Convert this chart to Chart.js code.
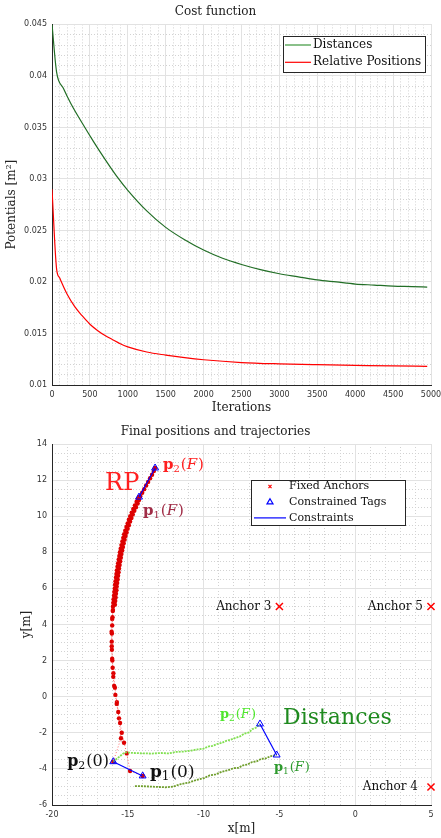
<!DOCTYPE html>
<html>
<head>
<meta charset="utf-8">
<title>Cost function and trajectories</title>
<script src="https://cdn.jsdelivr.net/npm/chart.js@4.4.1/dist/chart.umd.min.js"></script>
<style>
  html, body { margin: 0; padding: 0; background: #fff; }
  .panel { position: absolute; left: 0; width: 441px; height: 419px; }
  #cost-panel { top: 0; }
  #traj-panel { top: 419px; }
</style>
</head>
<body>
<div class="panel" id="cost-panel"><canvas id="cost-chart" width="441" height="419"></canvas></div>
<div class="panel" id="traj-panel"><canvas id="traj-chart" width="441" height="419"></canvas></div>
<script>
// ---- cost function data ----
const distIterations = [0, 60, 150, 250, 400, 550, 700, 850, 1000, 1250, 1500, 1750, 2000, 2250, 2500, 2750, 3000, 3250, 3500, 3750, 4000, 4250, 4500, 4750, 4950];
const distancesCost = [0.0450, 0.0404, 0.0388, 0.0373, 0.0354, 0.0336, 0.0319, 0.0303, 0.0289, 0.0269, 0.0253, 0.0241, 0.0231, 0.0223, 0.0217, 0.0212, 0.0208, 0.0205, 0.0202, 0.0200, 0.0198, 0.0197, 0.0196, 0.01955, 0.0195];
const relIterations = [0, 60, 100, 200, 300, 400, 500, 600, 700, 800, 900, 1000, 1250, 1500, 1750, 2000, 2500, 3000, 3500, 4000, 4500, 4950];
const relativeCost = [0.0290, 0.0213, 0.0204, 0.0188, 0.0176, 0.0167, 0.0159, 0.0153, 0.0148, 0.0144, 0.0140, 0.0137, 0.0132, 0.01290, 0.01265, 0.01245, 0.01218, 0.01205, 0.01197, 0.01191, 0.01185, 0.01181];
const costSeriesNames = ["Distances", "Relative Positions"];

// ---- trajectory data ----
const rpTag1X = [-14.02, -14.85, -15.07, -15.25, -15.40, -15.51, -15.63, -15.73, -15.82, -15.90, -15.96, -16.00, -16.03, -16.05, -16.06, -16.05, -16.03, -16.01, -15.99,
  -15.98, -15.96, -15.94, -15.91, -15.89, -15.86, -15.84, -15.81, -15.78, -15.75, -15.72, -15.68, -15.64, -15.60, -15.56, -15.52,
  -15.47, -15.42, -15.36, -15.30, -15.24, -15.17, -15.09, -15.01, -14.93, -14.84, -14.74, -14.64, -14.53, -14.42, -14.34, -14.26];
const rpTag1Y = [-4.39, -4.12, -3.14, -2.55, -2.00, -1.46, -0.85, -0.40, 0.10, 0.60, 1.10, 1.60, 2.10, 2.60, 3.05, 3.50, 3.95, 4.40, 4.75,
  5.0, 5.2, 5.4, 5.6, 5.8, 6.0, 6.2, 6.4, 6.6, 6.8, 7.0, 7.2, 7.4, 7.6, 7.8, 8.0,
  8.2, 8.4, 8.6, 8.8, 9.0, 9.2, 9.4, 9.6, 9.8, 10.0, 10.2, 10.4, 10.6, 10.8, 10.95, 11.06];
const rpTag2X = [-15.96, -15.45, -15.58, -15.72, -15.85, -15.95, -16.02, -16.06, -16.07, -16.03, -15.98,
  -15.85, -15.83, -15.80, -15.78, -15.75, -15.73, -15.70, -15.67, -15.64, -15.61, -15.58, -15.54, -15.50, -15.46, -15.42,
  -15.37, -15.32, -15.27, -15.21, -15.15, -15.08, -15.01, -14.93, -14.85, -14.76, -14.67, -14.57, -14.46, -14.35, -14.26,
  -14.18, -14.05, -13.92, -13.79, -13.66, -13.53, -13.40, -13.28, -13.20];
const rpTag2Y = [-3.60, -2.30, -1.20, -0.30, 0.50, 1.30, 2.00, 2.80, 3.60, 4.30, 4.80,
  5.1, 5.3, 5.5, 5.7, 5.9, 6.1, 6.3, 6.5, 6.7, 6.9, 7.1, 7.3, 7.5, 7.7, 7.9,
  8.1, 8.3, 8.5, 8.7, 8.9, 9.1, 9.3, 9.5, 9.7, 9.9, 10.1, 10.3, 10.5, 10.7, 10.9,
  11.1, 11.3, 11.5, 11.7, 11.9, 12.1, 12.3, 12.5, 12.67];
const distTag1X = [-14.53, -14.00, -13.50, -13.00, -12.50, -12.00, -11.50, -11.00, -10.50, -10.00, -9.60, -9.20, -8.80, -8.40, -8.00, -7.70, -7.40, -7.10, -6.80, -6.50, -6.20, -5.90, -5.60, -5.18];
const distTag1Y = [-4.95, -4.96, -4.98, -5.00, -5.02, -4.98, -4.84, -4.76, -4.62, -4.52, -4.36, -4.30, -4.16, -4.08, -3.96, -3.94, -3.80, -3.76, -3.62, -3.58, -3.44, -3.42, -3.30, -3.23];
const distTag2X = [-15.96, -15.20, -14.60, -14.00, -13.40, -12.80, -12.30, -11.80, -11.30, -10.80, -10.40, -10.00, -9.70, -9.40, -9.10, -8.80, -8.50, -8.20, -7.90, -7.60, -7.30, -7.00, -6.80, -6.55, -6.28];
const distTag2Y = [-3.60, -3.08, -3.12, -3.14, -3.15, -3.12, -3.14, -3.06, -3.04, -2.98, -2.92, -2.88, -2.76, -2.72, -2.62, -2.56, -2.44, -2.38, -2.28, -2.20, -2.04, -1.98, -1.80, -1.72, -1.51];
const initialTagsX = [-15.96, -14.02];
const initialTagsY = [-3.60, -4.39];
const rpFinalTagsX = [-14.26, -13.20];
const rpFinalTagsY = [11.06, 12.67];
const distFinalTagsX = [-6.28, -5.18];
const distFinalTagsY = [-1.51, -3.23];
const anchorX = [-5, 5, 5];
const anchorY = [5, 5, -5];
const anchorNames = ["Anchor 3", "Anchor 5", "Anchor 4"];
const trajLegendNames = ["Fixed Anchors", "Constrained Tags", "Constraints"];

// ---- styling ----
const SERIF = '"DejaVu Serif", serif';
const SANS = '"DejaVu Sans", sans-serif';
const TEXT_COLOR = "#222222";
const TICK_COLOR = "#333333";
const MAJOR_GRID = "#e2e2e2";
const MINOR_GRID = "#d2d2d2";
const AXIS_COLOR = "#262626";
const DIST_COLOR = "#226e26";
const REL_COLOR = "#ff0000";
const TAG_BLUE = "#0000ff";

function zip(xs, ys) {
  return xs.map((x, i) => ({ x, y: ys[i] }));
}

function plainNumber(value) {
  return String(Number(value.toFixed(4)));
}

function majorAxis(axis, range, step, title, titlePad, size) {
  return {
    type: "linear",
    axis,
    position: axis === "x" ? "bottom" : "left",
    min: range[0],
    max: range[1],
    ticks: {
      stepSize: step,
      color: TICK_COLOR,
      font: { family: SANS, size: 8 },
      padding: 5,
      maxRotation: 0,
      autoSkip: false,
      callback: plainNumber,
    },
    grid: { color: MAJOR_GRID, lineWidth: 1, drawTicks: false },
    border: { display: true, color: AXIS_COLOR, width: 1 },
    title: { display: true, text: title, color: TEXT_COLOR, font: { family: SERIF, size: 12 }, padding: titlePad },
    afterFit(scale) {
      if (axis === "x") scale.height = size;
      else scale.width = size;
      scale.paddingLeft = 0;
      scale.paddingRight = 0;
      scale.paddingTop = 0;
      scale.paddingBottom = 0;
    },
  };
}

function minorAxis(axis, range, step) {
  return {
    type: "linear",
    axis,
    position: axis === "x" ? "bottom" : "left",
    min: range[0],
    max: range[1],
    ticks: { display: false, stepSize: step, autoSkip: false },
    grid: { color: MINOR_GRID, lineWidth: 1, drawTicks: false },
    border: { display: false, dash: [1, 2] },
    afterFit(scale) {
      if (axis === "x") scale.height = 0;
      else scale.width = 0;
      scale.paddingLeft = 0;
      scale.paddingRight = 0;
      scale.paddingTop = 0;
      scale.paddingBottom = 0;
    },
  };
}

function drawMath(ctx, x, y, sub, arg, size, color) {
  // bold p, subscript index, then (arg) with F in italics
  ctx.fillStyle = color;
  ctx.textAlign = "left";
  ctx.textBaseline = "alphabetic";
  ctx.font = `bold ${size}px ${SERIF}`;
  ctx.fillText("p", x, y);
  x += ctx.measureText("p").width;
  ctx.font = `${Math.round(size * 0.68)}px ${SERIF}`;
  ctx.fillText(sub, x, y + size * 0.2);
  x += ctx.measureText(sub).width + 1;
  ctx.font = `${size}px ${SERIF}`;
  ctx.fillText("(", x, y);
  x += ctx.measureText("(").width;
  ctx.font = `${arg === "F" ? "italic " : ""}${size}px ${SERIF}`;
  ctx.fillText(arg, x, y);
  x += ctx.measureText(arg).width + (arg === "F" ? 1 : 0);
  ctx.font = `${size}px ${SERIF}`;
  ctx.fillText(")", x, y);
}

function drawLegend(chart, lg) {
  const ctx = chart.ctx;
  const area = chart.chartArea;
  ctx.font = `${lg.fontSize}px ${SERIF}`;
  const textW = Math.max(...lg.items.map((item) => ctx.measureText(item.label).width));
  const w = Math.round(lg.textLeft + textW + lg.padRight);
  const x0 = Math.round(area.left + lg.left);
  const y0 = Math.round(area.top + lg.top);
  ctx.fillStyle = "#ffffff";
  ctx.fillRect(x0, y0, w, lg.height);
  ctx.strokeStyle = AXIS_COLOR;
  ctx.lineWidth = 1;
  ctx.setLineDash([]);
  ctx.strokeRect(x0 + 0.5, y0 + 0.5, w, lg.height);

  lg.items.forEach((item, i) => {
    const cy = y0 + lg.firstRow + i * lg.rowH;
    ctx.strokeStyle = item.color;
    ctx.fillStyle = "rgba(0,0,0,0)";
    if (item.kind === "line") {
      ctx.lineWidth = 1.2;
      ctx.beginPath();
      ctx.moveTo(x0 + item.x1, cy);
      ctx.lineTo(x0 + item.x2, cy);
      ctx.stroke();
    } else {
      ctx.lineWidth = 1.2;
      Chart.helpers.drawPoint(ctx, { pointStyle: item.kind, radius: item.r, rotation: 0, borderWidth: 1.2 }, x0 + item.x, cy);
    }
    ctx.fillStyle = "#111111";
    ctx.font = `${lg.fontSize}px ${SERIF}`;
    ctx.textAlign = "left";
    ctx.textBaseline = "middle";
    ctx.fillText(item.label, x0 + lg.textLeft, cy);
  });
}

function overlay(config) {
  return {
    id: "overlay",
    afterDatasetsDraw(chart) {
      const ctx = chart.ctx;
      const sx = chart.scales.x;
      const sy = chart.scales.y;
      ctx.save();
      (config.notes || []).forEach((note) => {
        const px = sx.getPixelForValue(note.x);
        const py = sy.getPixelForValue(note.y);
        if (note.math) {
          drawMath(ctx, px, py, note.math[0], note.math[1], note.size, note.color);
        } else {
          ctx.fillStyle = note.color;
          ctx.font = `${note.size}px ${SERIF}`;
          ctx.textAlign = "left";
          ctx.textBaseline = "alphabetic";
          ctx.fillText(note.text, px, py);
        }
      });
      (config.anchorLabels || []).forEach((label, i) => {
        ctx.fillStyle = "#111111";
        ctx.font = `12px ${SERIF}`;
        ctx.textAlign = "right";
        ctx.textBaseline = "middle";
        ctx.fillText(label, sx.getPixelForValue(anchorX[i]) - config.anchorGap[i], sy.getPixelForValue(anchorY[i]));
      });
      if (config.legend) drawLegend(chart, config.legend);
      ctx.restore();
    },
  };
}

const baseOptions = {
  responsive: false,
  animation: false,
  devicePixelRatio: 1,
  layout: { padding: { left: 0, right: 10, top: 0, bottom: 0 } },
};

// ---- top chart: cost function ----
new Chart(document.getElementById("cost-chart"), {
  type: "scatter",
  data: {
    datasets: [
      {
        label: costSeriesNames[0],
        data: zip(distIterations, distancesCost),
        showLine: true,
        borderColor: DIST_COLOR,
        borderWidth: 1.2,
        pointRadius: 0,
        cubicInterpolationMode: "monotone",
      },
      {
        label: costSeriesNames[1],
        data: zip(relIterations, relativeCost),
        showLine: true,
        borderColor: REL_COLOR,
        borderWidth: 1.2,
        pointRadius: 0,
        cubicInterpolationMode: "monotone",
      },
    ],
  },
  options: {
    ...baseOptions,
    plugins: {
      legend: { display: false },
      tooltip: { enabled: false },
      title: {
        display: true,
        text: "Cost function",
        color: TEXT_COLOR,
        font: { family: SERIF, size: 12, weight: "normal" },
        padding: { top: 5, bottom: 5 },
      },
    },
    scales: {
      xMinor: minorAxis("x", [0, 5000], 100),
      yMinor: minorAxis("y", [0.01, 0.045], 0.001),
      x: majorAxis("x", [0, 5000], 500, "Iterations", { top: 0, bottom: 4 }, 34),
      y: majorAxis("y", [0.01, 0.045], 0.005, "Potentials [m\u00B2]", { top: 5, bottom: 0 }, 52),
    },
  },
  plugins: [
    overlay({
      legend: {
        left: 231, top: 12, height: 36, firstRow: 9, rowH: 17.3, textLeft: 30, padRight: 4, fontSize: 12,
        items: [
          { kind: "line", color: "#3c963c", label: costSeriesNames[0], x1: 2, x2: 28 },
          { kind: "line", color: REL_COLOR, label: costSeriesNames[1], x1: 2, x2: 28 },
        ],
      },
    }),
  ],
});

// ---- bottom chart: final positions and trajectories ----
const redTrajectory = {
  showLine: true,
  borderColor: "rgba(255, 70, 70, 0.8)",
  borderWidth: 1,
  borderDash: [1, 2],
  pointRadius: 2.2,
  pointBackgroundColor: "#dd0000",
  pointBorderWidth: 0,
};
const constraint = {
  showLine: true,
  borderColor: TAG_BLUE,
  borderWidth: 1.2,
  pointStyle: "triangle",
  pointRadius: 4,
  pointBorderColor: TAG_BLUE,
  pointBackgroundColor: "rgba(0,0,0,0)",
  pointBorderWidth: 1,
};

new Chart(document.getElementById("traj-chart"), {
  type: "scatter",
  data: {
    datasets: [
      { label: "Constraints initial", data: zip(initialTagsX, initialTagsY), ...constraint },
      { label: "Constraints RP", data: zip(rpFinalTagsX, rpFinalTagsY), ...constraint },
      { label: "Constraints distances", data: zip(distFinalTagsX, distFinalTagsY), ...constraint },
      {
        label: trajLegendNames[0],
        data: zip(anchorX, anchorY),
        pointStyle: "crossRot",
        pointRadius: 5,
        pointBorderColor: "#ff0000",
        pointBorderWidth: 1.5,
        clip: false,
      },
      {
        label: "Distances p1",
        data: zip(distTag1X, distTag1Y),
        showLine: true,
        borderColor: "#6f9e2c",
        borderWidth: 1.8,
        borderDash: [2, 1],
        pointRadius: 0,
      },
      {
        label: "Distances p2",
        data: zip(distTag2X, distTag2Y),
        showLine: true,
        borderColor: "#82e052",
        borderWidth: 1.8,
        borderDash: [2, 1],
        pointRadius: 0,
      },
      { label: "RP p1", data: zip(rpTag1X, rpTag1Y), ...redTrajectory },
      { label: "RP p2", data: zip(rpTag2X, rpTag2Y), ...redTrajectory },
    ],
  },
  options: {
    ...baseOptions,
    plugins: {
      legend: { display: false },
      tooltip: { enabled: false },
      title: {
        display: true,
        text: "Final positions and trajectories",
        color: TEXT_COLOR,
        font: { family: SERIF, size: 12, weight: "normal" },
        padding: { top: 5.3, bottom: 5.3 },
      },
    },
    scales: {
      xMinor: minorAxis("x", [-20, 5], 1),
      yMinor: minorAxis("y", [-6, 14], 0.5),
      x: majorAxis("x", [-20, 5], 5, "x[m]", { top: 0, bottom: 2 }, 33),
      y: majorAxis("y", [-6, 14], 2, "y[m]", { top: 20, bottom: 0 }, 52),
    },
  },
  plugins: [
    overlay({
      notes: [
        { text: "RP", x: -16.5, y: 11.45, size: 24, color: "#ff2020" },
        { math: ["2", "F"], x: -12.68, y: 12.6, size: 15, color: "#ff2020" },
        { math: ["1", "F"], x: -14.0, y: 10.07, size: 15, color: "#a02c46" },
        { math: ["2", "0"], x: -19.0, y: -3.84, size: 16, color: "#111111" },
        { math: ["1", "0"], x: -13.54, y: -4.45, size: 17, color: "#111111" },
        { text: "Distances", x: -4.76, y: -1.51, size: 22, color: "#1f8a1f" },
        { math: ["2", "F"], x: -8.92, y: -1.18, size: 13, color: "#4ee62c" },
        { math: ["1", "F"], x: -5.36, y: -4.12, size: 13, color: "#2e9a2e" },
      ],
      anchorLabels: anchorNames,
      anchorGap: [8, 8, 13],
      legend: {
        left: 199, top: 36, height: 45, firstRow: 6.5, rowH: 15.7, textLeft: 38, padRight: 19, fontSize: 11,
        items: [
          { kind: "crossRot", color: "#ff0000", label: trajLegendNames[0], x: 19, r: 2.2 },
          { kind: "triangle", color: TAG_BLUE, label: trajLegendNames[1], x: 19, r: 3.5 },
          { kind: "line", color: TAG_BLUE, label: trajLegendNames[2], x1: 3, x2: 35 },
        ],
      },
    }),
  ],
});
</script>
</body>
</html>
